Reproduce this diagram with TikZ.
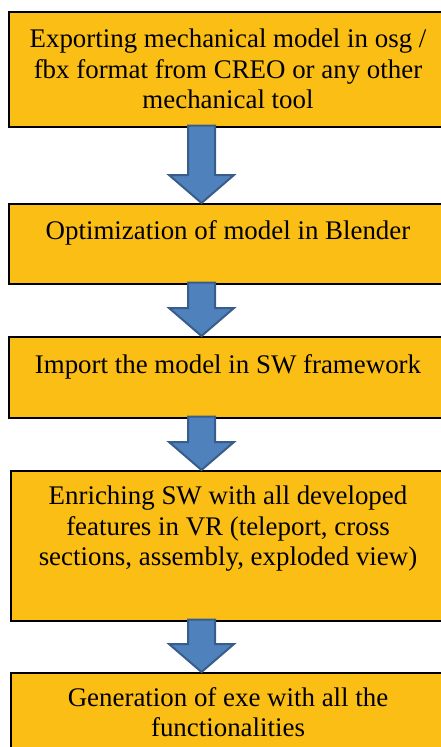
\documentclass[tikz,border=0pt]{standalone}
\usepackage{fontspec}
\setmainfont{Liberation Serif}
\newfontfamily\stepfont{Liberation Serif}
\usetikzlibrary{calc}
\definecolor{boxfill}{RGB}{251,190,21}
\definecolor{arrowfill}{RGB}{79,129,189}
\definecolor{arrowedge}{RGB}{56,93,138}
\newcommand\flowarrow[2]{%
  \draw[blockarrow] let \p1=(#1.south), \p2=(#2.north) in
    (188bp,\y1+2bp) -- (215bp,\y1+2bp) -- (215bp,\y2+28bp) -- (234bp,\y2+28bp)
    -- (201.5bp,\y2) -- (169bp,\y2+28bp) -- (188bp,\y2+28bp) -- cycle;}
\begin{document}
\begin{tikzpicture}[x=1bp,y=-1bp,
  stepbox/.style={draw=black, line width=1.6bp, fill=boxfill, rectangle,
    inner sep=0, anchor=north west, minimum width=440bp},
  steptext/.style={anchor=north, align=center, inner sep=0,
    font=\stepfont\fontsize{27}{30.5}\selectfont},
  blockarrow/.style={draw=arrowedge, fill=arrowfill, line width=2bp, line join=miter}]
\useasboundingbox (0,0) rectangle (441,747);
\node[stepbox, minimum height=115bp] (b1) at (8,11) {};
\node[stepbox, minimum height=80bp] (b2) at (8,203) {};
\node[stepbox, minimum height=81bp] (b3) at (8,336) {};
\node[stepbox, minimum height=150bp] (b4) at (10,470) {};
\node[stepbox, minimum height=100bp] (b5) at (10,672) {};
\node[steptext] (t1) at (228,29) {Exporting mechanical model in osg /\\fbx format from CREO or any other\\mechanical tool};
\node[steptext] (t2) at (228,220) {Optimization of model in Blender};
\node[steptext] (t3) at (228,354) {Import the model in SW framework};
\node[steptext] (t4) at (228,486) {Enriching SW with all developed\\features in VR (teleport, cross\\sections, assembly, exploded view)};
\node[steptext] (t5) at (228,687) {Generation of exe with all the\\functionalities};
\flowarrow{b1}{b2}
\flowarrow{b2}{b3}
\flowarrow{b3}{b4}
\flowarrow{b4}{b5}
\end{tikzpicture}
\end{document}
